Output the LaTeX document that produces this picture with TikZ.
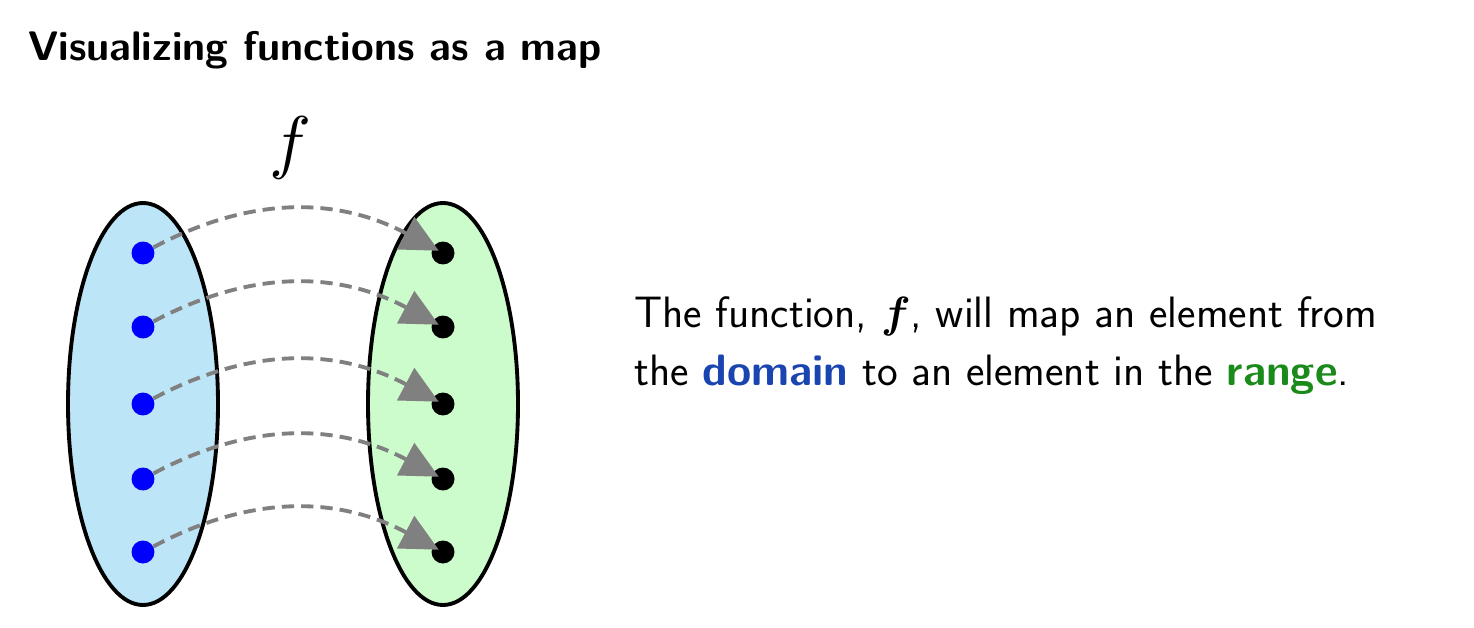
\documentclass[tikz,border=0pt]{standalone}
\usepackage{amsmath,bm}
\usetikzlibrary{arrows.meta,positioning}
\tikzset{>=latex}
\definecolor{domainfill}{HTML}{BDE5F8}
\definecolor{rangefill}{HTML}{CCFBCC}
\definecolor{domaincol}{HTML}{1A44B0}
\definecolor{rangecol}{HTML}{1A8A1A}
\begin{document}
\sffamily
\begin{tikzpicture}[x=0.02cm,y=-0.02cm,
    dom/.style={circle,fill=blue,inner sep=0,minimum size=0.46cm},
    img/.style={circle,fill=black,inner sep=0,minimum size=0.46cm},
    mapto/.style={gray,line width=2.2pt,dash pattern=on 7pt off 4pt,
      -{Triangle[length=0.75cm,width=0.72cm]},shorten >=-4pt}]
		\useasboundingbox (0,0) rectangle (1474,628);
		\node[anchor=west,font=\fontsize{23.5}{28}\selectfont\bfseries] (title) at (22,50) {Visualizing functions as a map};
		
		\draw[line width=2.2pt,fill=domainfill] (143,404) ellipse [x radius=75,y radius=201];
		\draw[line width=2.2pt,fill=rangefill] (443,404) ellipse [x radius=75,y radius=201];
		\node (f) at (290,148) {\scalebox{4}{$f$}};
		
		% points and arrows.
		\foreach \i/\y in {1/253,2/327,3/404,4/479,5/552} {
			\node[dom] (a\i) at (143,\y) {};
			\node[img] (b\i) at (443,\y) {};
			\draw[mapto] (a\i) to[bend left=28] (b\i);
		}
		
		\node[anchor=west,align=left,font=\fontsize{25}{33}\selectfont] (text) at (628,346)
			{The function, $\bm{f}$, will map an element from\\
			 the \textcolor{domaincol}{\bfseries domain} to an element in the \textcolor{rangecol}{\bfseries range}.};
	\end{tikzpicture}
\end{document}
